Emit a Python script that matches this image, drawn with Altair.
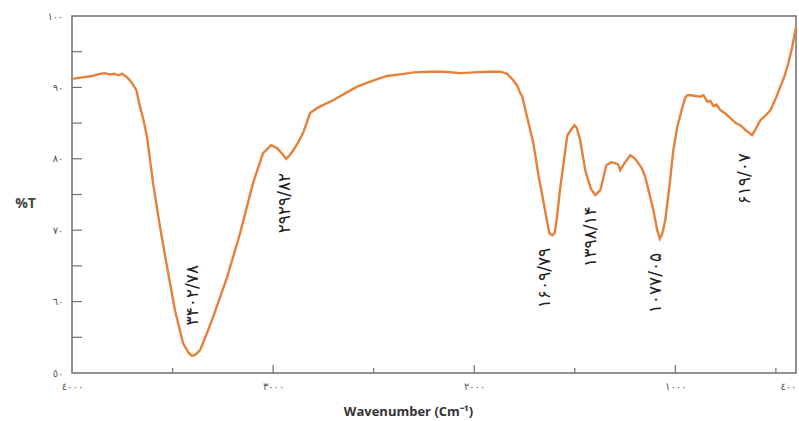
import altair as alt
import pandas as pd

# ---- spectrum (wavenumber cm-1, %T) ----
wavenumber = [4000, 3950, 3900, 3860, 3836, 3810, 3790, 3770, 3751, 3725, 3701, 3680, 3662, 3645,
              3627, 3597, 3562, 3527, 3488, 3448, 3420, 3403, 3385, 3363, 3330, 3299, 3229, 3164,
              3100, 3050, 3010, 2980, 2955, 2935, 2915, 2900, 2875, 2851, 2816, 2781, 2740, 2701,
              2640, 2582, 2500, 2433, 2350, 2300, 2219, 2150, 2070, 2000, 1920, 1870, 1836, 1806,
              1785, 1771, 1761, 1735, 1706, 1680, 1657, 1627, 1612, 1600, 1590, 1572, 1537, 1515,
              1502, 1490, 1473, 1448, 1420, 1398, 1373, 1343, 1320, 1299, 1285, 1274, 1255, 1224,
              1200, 1184, 1165, 1149, 1109, 1090, 1077, 1065, 1050, 1030, 1010, 990, 965, 950, 940,
              920, 900, 876, 860, 841, 825, 811, 795, 776, 750, 726, 700, 677, 650, 627, 619, 600,
              577, 550, 527, 500, 478, 458, 438, 420, 403, 400]
transmittance = [91.2, 91.4, 91.6, 91.9, 92.0, 91.8, 91.9, 91.7, 91.9, 91.4, 90.6, 89.6, 87.3, 85.5,
                 83.1, 76.6, 70.4, 64.8, 58.8, 54.2, 52.8, 52.4, 52.6, 53.2, 55.5, 57.8, 63.4, 69.6,
                 76.6, 80.8, 81.9, 81.5, 80.7, 80.0, 80.6, 81.2, 82.3, 83.6, 86.4, 87.1, 87.7, 88.2,
                 89.2, 90.1, 91.0, 91.6, 91.9, 92.1, 92.2, 92.2, 92.0, 92.1, 92.2, 92.2, 91.9, 91.0,
                 90.2, 89.2, 88.7, 85.6, 82.2, 77.6, 74.2, 69.6, 69.3, 69.6, 71.5, 76.0, 83.3, 84.2,
                 84.7, 84.3, 82.6, 78.4, 75.8, 74.9, 75.6, 79.1, 79.5, 79.4, 79.2, 78.4, 79.3, 80.5,
                 80.0, 79.4, 78.6, 77.4, 72.8, 70.0, 68.8, 69.5, 71.4, 76.0, 81.2, 84.5, 87.2, 88.6, 88.9,
                 88.9, 88.8, 88.7, 88.9, 88.0, 88.1, 87.4, 87.6, 86.8, 86.3, 85.7, 85.0, 84.7, 84.0, 83.5,
                 83.3, 84.2, 85.4, 86.1, 86.8, 88.5, 90.1, 91.5, 93.4, 95.5, 98.0, 98.4]

# ---- peak annotations ----
peak_labels = ["۳۴۰۲/۷۸", "۲۹۲۹/۸۲", "۱۶۰۹/۷۹", "۱۳۹۸/۱۴", "۱۰۷۷/۰۵", "۶۱۹/۰۷"]
peak_label_wn = [3398, 2940, 1647, 1418, 1095, 652]
peak_label_t = [60.9, 73.8, 63.3, 69.1, 62.6, 77.2]

# ---- axis ticks / labels ----
x_major_ticks = [3000, 2000, 1000]
x_minor_ticks = [3500, 2500, 1500, 500]
x_label_values = [4000, 3000, 2000, 1000, 400]
x_label_text = ["٤٠٠٠", "٣٠٠٠", "٢٠٠٠", "١٠٠٠", "٤٠٠"]
y_ticks = [55, 60, 65, 70, 75, 80, 85, 90, 95]
y_label_values = [50, 60, 70, 80, 90, 100]
y_label_text = ["٥٠", "٦٠", "٧٠", "٨٠", "٩٠", "١٠٠"]

W, H = 724, 357


def label_expr(values, texts):
    expr = "''"
    for v, t in reversed(list(zip(values, texts))):
        expr = f"datum.value == {v} ? '{t}' : ({expr})"
    return expr


xscale = alt.Scale(domain=[400, 4000], reverse=True, nice=False, zero=False)
yscale = alt.Scale(domain=[50, 100], nice=False, zero=False)

xaxis = alt.Axis(
    values=x_label_values, labelExpr=label_expr(x_label_values, x_label_text),
    labelAlign={"condition": {"test": "datum.value == 400", "value": "right"}, "value": "center"},
    ticks=False, domain=False, grid=False, labelFont="DejaVu Sans", labelFontSize=10,
    labelColor="#555555", labelPadding=8, labelOverlap=False, labelFlush=False,
    title="Wavenumber (Cm⁻¹)", titleFont="Open Sans", titleFontSize=13,
    titleFontWeight="bold", titleColor="#333333", titleX=336, titleY=38,
    titleAlign="center", titleBaseline="middle")
yaxis = alt.Axis(
    values=y_label_values, labelExpr=label_expr(y_label_values, y_label_text),
    ticks=False, domain=False, grid=False, labelFont="DejaVu Sans", labelFontSize=10,
    labelColor="#555555", labelPadding=9, labelOverlap=False, labelFlush=False,
    title="%T", titleAngle=0, titleFont="Open Sans", titleFontSize=14,
    titleFontWeight="bold", titleColor="#444444", titleX=-47, titleY=187,
    titleAlign="center", titleBaseline="middle")

spec_df = pd.DataFrame({"wn": wavenumber, "t": transmittance})
ann_df = pd.DataFrame({"wn": peak_label_wn, "t": peak_label_t, "label": peak_labels})

line = alt.Chart(spec_df).mark_line(color="#E7813A", strokeWidth=2.4).encode(
    x=alt.X("wn:Q", scale=xscale, axis=xaxis),
    y=alt.Y("t:Q", scale=yscale, axis=yaxis),
)

xmaj = alt.Chart(pd.DataFrame({"wn": x_major_ticks})).mark_rule(color="#707070", strokeWidth=1.2).encode(
    x=alt.X("wn:Q", scale=xscale, axis=xaxis), y=alt.value(H), y2=alt.value(H - 8))
xmin = alt.Chart(pd.DataFrame({"wn": x_minor_ticks})).mark_rule(color="#707070", strokeWidth=1.2).encode(
    x=alt.X("wn:Q", scale=xscale, axis=xaxis), y=alt.value(H), y2=alt.value(H - 5))
yt = alt.Chart(pd.DataFrame({"t": y_ticks})).mark_rule(color="#707070", strokeWidth=1.2).encode(
    y=alt.Y("t:Q", scale=yscale, axis=yaxis), x=alt.value(0), x2=alt.value(10))

ann = alt.Chart(ann_df).mark_text(angle=270, font="DejaVu Sans", fontSize=17, color="#222222",
                                  align="center", baseline="middle").encode(
    x=alt.X("wn:Q", scale=xscale, axis=xaxis),
    y=alt.Y("t:Q", scale=yscale, axis=yaxis),
    text="label:N")

chart = alt.layer(line, xmaj, xmin, yt, ann).properties(
    width=W, height=H,
    autosize=alt.AutoSizeParams(type="none"),
    padding={"left": 72, "top": 16, "right": 3, "bottom": 48},
    background="white",
).configure_view(stroke="#6E6E6E", strokeWidth=1.5)

chart.save("out.html", embed_options={"renderer": "svg", "actions": False})
